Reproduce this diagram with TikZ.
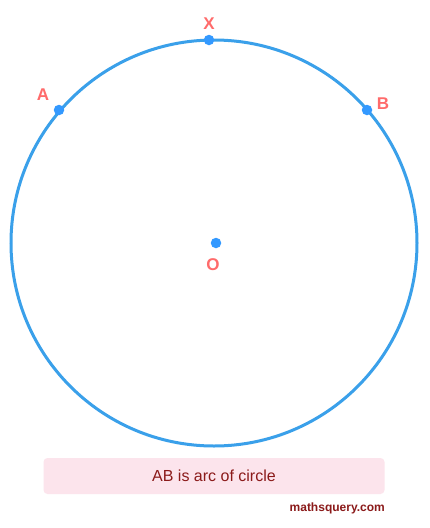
\documentclass[tikz,border=0pt]{standalone}
\usepackage{fontspec}
\setmainfont{Liberation Sans}
\definecolor{circblue}{HTML}{3AA0EA}
\definecolor{dotblue}{HTML}{3399FF}
\definecolor{lblred}{HTML}{FF6B6B}
\definecolor{boxpink}{HTML}{FCE4EC}
\definecolor{txtred}{HTML}{8B1A1A}
\tikzset{
  pt/.style={circle,fill=dotblue,inner sep=0pt,minimum size=10.5pt},
  lbl/.style={text=lblred,font=\fontsize{17}{20}\selectfont\bfseries,inner sep=0pt},
}
\begin{document}
\begin{tikzpicture}[x=1pt,y=-1pt]
\useasboundingbox (0,0) rectangle (430,528);
\fill[white] (0,0) rectangle (430,528);
\draw[circblue,line width=3pt] (214,243) circle (203);
\node[pt] (X) at (209,40) {};
\node[pt] (A) at (59,110) {};
\node[pt] (B) at (367,110) {};
\node[pt] (O) at (216,243) {};
\node[lbl] (lX) at (209,24) {X};
\node[lbl] (lA) at (43,95) {A};
\node[lbl] (lB) at (383,104) {B};
\node[lbl] (lO) at (213,265) {O};
\node[fill=boxpink,rounded corners=4pt,minimum width=341pt,minimum height=36pt,inner sep=0pt] (cap) at (214,476) {};
\node[text=txtred,font=\fontsize{16}{19}\selectfont,inner sep=0pt] (capt) at (214,476) {AB is arc of circle};
\node[text=txtred,font=\fontsize{12}{14}\selectfont\bfseries,inner sep=0pt,anchor=east] (web) at (385,508) {mathsquery.com};
\end{tikzpicture}
\end{document}
